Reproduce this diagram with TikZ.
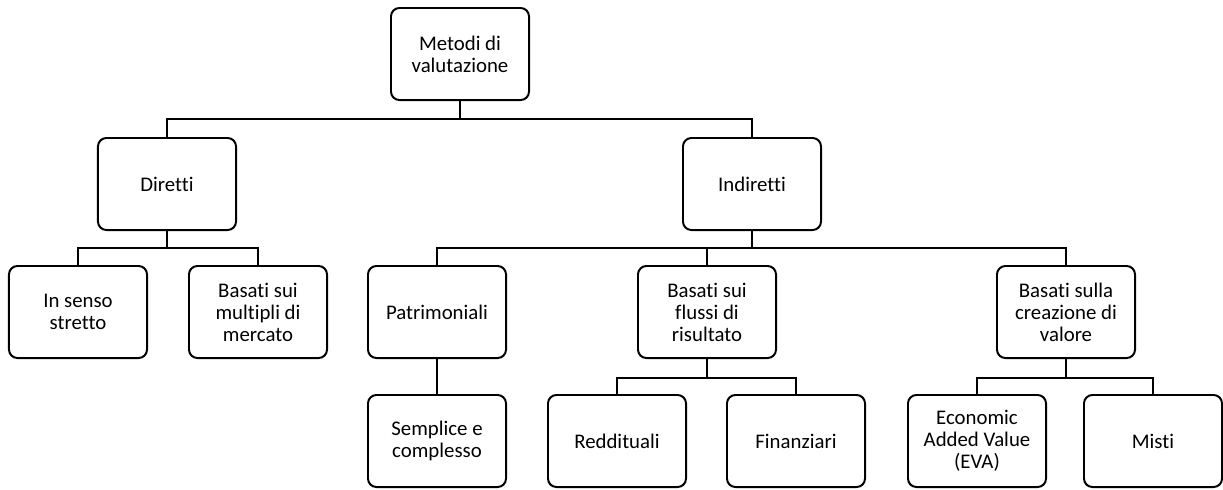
\documentclass[tikz,border=0pt]{standalone}
\usepackage{fontspec}
\setmainfont{Carlito}[Ligatures=NoCommon]
\usetikzlibrary{positioning}

\tikzset{
  metodo/.style={draw, line width=1.4pt, rounded corners=6pt, minimum width=3.45cm,
    minimum height=2.3cm, align=center, font=\fontsize{14.8}{15.6}\selectfont},
  ramo/.style={line width=1.2pt}
}

\begin{document}
\begin{tikzpicture}[x=0.025cm, y=-0.025cm]
                \useasboundingbox (0,0) rectangle (1223,489);
                \node[metodo] (metodi) at (460,54) {Metodi di\\valutazione};
                % primo livello
                \node[metodo] (diretti) at (167,184) {Diretti};
                \node[metodo] (indiretti) at (752,184) {Indiretti};
                % secondo livello
                \node[metodo] (stretto) at (78,312) {In senso\\stretto};
                \node[metodo] (multipli) at (258,312) {Basati sui\\multipli di\\mercato};
                \node[metodo] (patrim) at (437,312) {Patrimoniali};
                \node[metodo] (flussi) at (707,312) {Basati sui\\flussi di\\risultato};
                \node[metodo] (valore) at (1066,312) {Basati sulla\\creazione di\\valore};
                % terzo livello
                \node[metodo] (semplice) at (437,441) {Semplice e\\complesso};
                \node[metodo] (reddit) at (617,441) {Reddituali};
                \node[metodo] (finanz) at (796,441) {Finanziari};
                \node[metodo] (eva) at (977,441) {Economic\\Added Value\\(EVA)};
                \node[metodo] (misti) at (1153,441) {Misti};

                \draw[ramo] (metodi.south) -- ++(0,18) -| (diretti.north);
                \draw[ramo] (metodi.south) -- ++(0,18) -| (indiretti.north);
                \draw[ramo] (diretti.south) -- ++(0,17) -| (stretto.north);
                \draw[ramo] (diretti.south) -- ++(0,17) -| (multipli.north);
                \draw[ramo] (indiretti.south) -- ++(0,17) -| (patrim.north);
                \draw[ramo] (indiretti.south) -- ++(0,17) -| (flussi.north);
                \draw[ramo] (indiretti.south) -- ++(0,17) -| (valore.north);
                \draw[ramo] (patrim.south) -- (semplice.north);
                \draw[ramo] (flussi.south) -- ++(0,19) -| (reddit.north);
                \draw[ramo] (flussi.south) -- ++(0,19) -| (finanz.north);
                \draw[ramo] (valore.south) -- ++(0,19) -| (eva.north);
                \draw[ramo] (valore.south) -- ++(0,19) -| (misti.north);
            \end{tikzpicture}
\end{document}
